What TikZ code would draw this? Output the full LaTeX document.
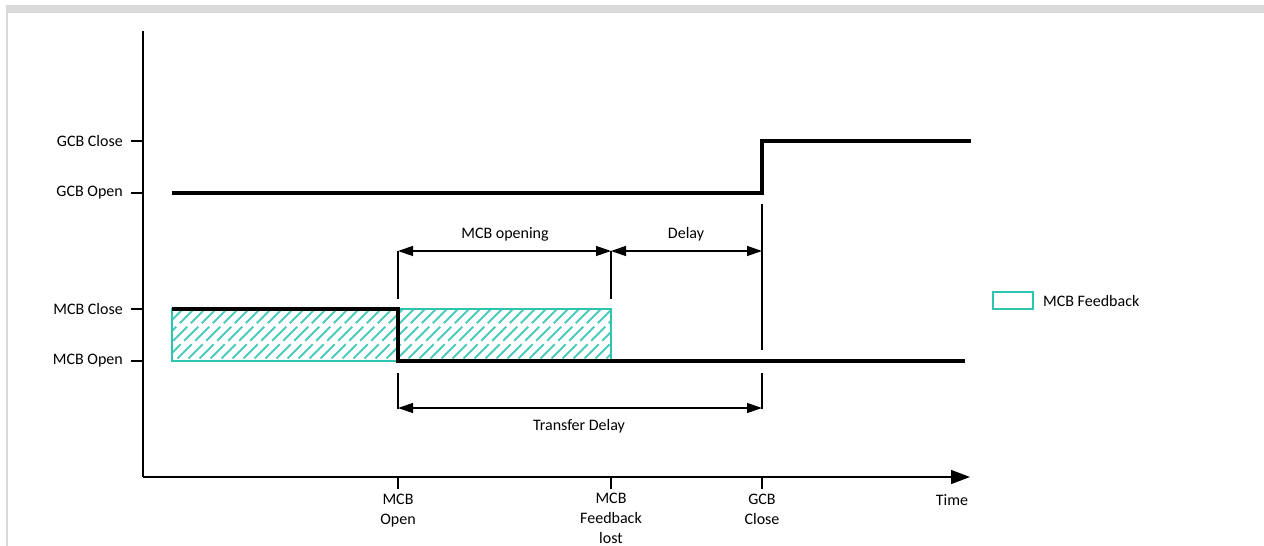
\documentclass[tikz,border=0pt]{standalone}
\usepackage{fontspec}
\setmainfont{Carlito}
\usetikzlibrary{arrows.meta}
\definecolor{frameg}{HTML}{D9D9D9}
\definecolor{teal}{HTML}{2EC4B0}
\definecolor{hatchc}{HTML}{4CCBBB}
\begin{document}
\begin{tikzpicture}[x=1pt,y=-1pt,
  lbl/.style={font=\fontsize{16}{20}\selectfont, inner sep=0pt},
  signal/.style={line width=3.5pt, line join=miter},
  thin/.style={line width=1.3pt},
  dim/.style={line width=1.3pt, {Triangle[length=15pt,width=10pt]}-{Triangle[length=15pt,width=10pt]}},
  axis/.style={line width=1.5pt}
]
\useasboundingbox (0,0) rectangle (1264,546);
% frame
\fill[frameg] (6,5) rectangle (1264,13);
\fill[frameg] (6,5) rectangle (8,546);

% hatched MCB feedback
\coordinate (hbl) at (172,361);
\coordinate (htr) at (611,309);
\begin{scope}
\clip (hbl) rectangle (htr);
\foreach \c in {172,183,...,680}{
  \draw[hatchc, line width=1.8pt, dash pattern=on 20pt off 5pt] (\c,309) -- ++(-60,60);
}
\end{scope}
\draw[teal, line width=1.3pt] (hbl) rectangle (htr);

% axes
\coordinate (org) at (143,477);
\coordinate (ytop) at (143,31);
\coordinate (xend) at (970,477);
\draw[axis] (ytop) -- (org);
\draw[axis, -{Triangle[length=19pt,width=14pt]}] (org) -- (xend);

% y ticks and labels
\foreach \yy/\t/\n in {141/GCB Close/gc, 193/GCB Open/go, 309/MCB Close/mc, 361/MCB Open/mo}{
  \coordinate (yt\n) at (131,\yy);
  \coordinate (ya\n) at (143,\yy);
  \draw[thin] (yt\n) -- (ya\n);
  \node[lbl, anchor=east] (yl\n) at (123,\yy) {\t};
}

% x ticks
\foreach \xx/\n in {398/a, 611/b, 762/c}{
  \coordinate (xa\n) at (\xx,477);
  \coordinate (xt\n) at (\xx,489);
  \draw[thin] (xa\n) -- (xt\n);
}
\node[lbl, align=center, anchor=north] (xla) at (398,494) {MCB\\Open};
\node[lbl, align=center, anchor=north] (xlb) at (611,493) {MCB\\Feedback\\lost};
\node[lbl, align=center, anchor=north] (xlc) at (762,494) {GCB\\Close};
\node[lbl, anchor=north] (xlt) at (952,494) {Time};

% signals
\coordinate (g0) at (172,193);
\coordinate (g1) at (762,193);
\coordinate (g2) at (762,141);
\coordinate (g3) at (971,141);
\draw[signal] (g0) -- (g1) -- (g2) -- (g3);
\coordinate (m0) at (172,309);
\coordinate (m1) at (398,309);
\coordinate (m2) at (398,361);
\coordinate (m3) at (965,361);
\draw[signal] (m0) -- (m1) -- (m2) -- (m3);

% reference lines
\coordinate (ra1) at (398,251); \coordinate (ra2) at (398,299);
\coordinate (ra3) at (398,373); \coordinate (ra4) at (398,409);
\coordinate (rb1) at (611,251); \coordinate (rb2) at (611,299);
\coordinate (rc1) at (762,204); \coordinate (rc2) at (762,350);
\coordinate (rc3) at (762,373); \coordinate (rc4) at (762,409);
\draw[thin] (ra1) -- (ra2);
\draw[thin] (ra3) -- (ra4);
\draw[thin] (rb1) -- (rb2);
\draw[thin] (rc1) -- (rc2);
\draw[thin] (rc3) -- (rc4);

% dimension arrows
\coordinate (d1a) at (398,251); \coordinate (d1b) at (611,251);
\coordinate (d2a) at (611,251); \coordinate (d2b) at (762,251);
\coordinate (d3a) at (398,408); \coordinate (d3b) at (762,408);
\draw[dim] (d1a) -- (d1b);
\draw[dim] (d2a) -- (d2b);
\draw[dim] (d3a) -- (d3b);
\node[lbl] (l1) at (505,234) {MCB opening};
\node[lbl] (l2) at (686,234) {Delay};
\node[lbl] (l3) at (579,426) {Transfer Delay};

% legend
\draw[teal, line width=1.8pt] (993,292) rectangle (1033,309);
\node[lbl, anchor=west] (leg) at (1043,301) {MCB Feedback};
\end{tikzpicture}
\end{document}
